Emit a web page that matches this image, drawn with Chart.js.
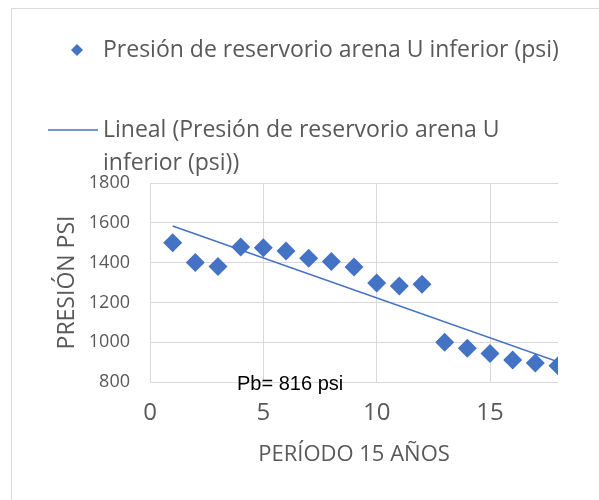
<!DOCTYPE html>
<html>
<head>
<meta charset="utf-8">
<script src="https://cdn.jsdelivr.net/npm/chart.js@4.4.1/dist/chart.umd.min.js"></script>
<style>
html, body { margin: 0; padding: 0; background: #fff; }
#wrap { position: relative; width: 599px; height: 500px; overflow: hidden; }
#frame { position: absolute; left: 11px; top: 8px; width: 700px; height: 600px; border: 1px solid #d9d9d9; }
canvas { position: absolute; left: 0; top: 0; }
</style>
</head>
<body>
<div id="wrap"><div id="frame"></div><canvas id="chart" width="599" height="500"></canvas></div>
<script>
// data
const periods = [1, 2, 3, 4, 5, 6, 7, 8, 9, 10, 11, 12, 13, 14, 15, 16, 17, 18];
const pressures = [1500, 1400, 1380, 1478, 1475, 1458, 1422, 1406, 1378, 1297, 1283, 1291, 1000, 970, 943, 910, 896, 882];
const xTicks = [0, 5, 10, 15];
const seriesName = 'Presión de reservorio arena U inferior (psi)';
const trendName = ['Lineal (Presión de reservorio arena U', 'inferior (psi))'];
const xTitle = 'PERÍODO 15 AÑOS';
const yTitle = 'PRESIÓN PSI';
const note = 'Pb= 816 psi';

const blue = '#4472C4';
const grey = '#595959';
const font = "'Open Sans', sans-serif";

// least squares trend, like the spreadsheet one
function trend(xs, ys) {
    const n = xs.length;
    const mx = xs.reduce((a, b) => a + b, 0) / n;
    const my = ys.reduce((a, b) => a + b, 0) / n;
    let sxy = 0, sxx = 0;
    for (let i = 0; i < n; i++) {
        sxy += (xs[i] - mx) * (ys[i] - my);
        sxx += (xs[i] - mx) * (xs[i] - mx);
    }
    const m = sxy / sxx;
    const x0 = xs[0], x1 = xs[n - 1];
    return [{x: x0, y: my + m * (x0 - mx)}, {x: x1, y: my + m * (x1 - mx)}];
}

const legendAndNote = {
    id: 'legendAndNote',
    afterDraw(chart) {
        const c = chart.ctx;
        c.save();
        // legend
        c.fillStyle = blue;
        c.beginPath();
        c.moveTo(77, 44); c.lineTo(83, 50); c.lineTo(77, 56); c.lineTo(71, 50);
        c.closePath();
        c.fill();
        c.strokeStyle = blue;
        c.lineWidth = 1.5;
        c.beginPath();
        c.moveTo(48, 130); c.lineTo(98, 130);
        c.stroke();
        c.fillStyle = grey;
        c.font = '23px ' + font;
        c.textBaseline = 'middle';
        c.fillText(seriesName, 103, 50);
        c.fillText(trendName[0], 103, 130);
        c.fillText(trendName[1], 103, 163);
        // note near the axis
        c.fillStyle = '#000';
        c.font = "20px 'Liberation Sans', Arial, sans-serif";
        c.fillText(note, 237, 384);
        c.restore();
    }
};

new Chart(document.getElementById('chart'), {
    type: 'scatter',
    data: {
        datasets: [{
            label: seriesName,
            data: periods.map((p, i) => ({x: p, y: pressures[i]})),
            pointStyle: 'rectRot',
            pointRadius: 9.5,
            pointHoverRadius: 9.5,
            backgroundColor: blue,
            borderColor: blue,
            borderWidth: 0
        }, {
            label: trendName.join(' '),
            type: 'line',
            data: trend(periods, pressures),
            borderColor: blue,
            borderWidth: 1.5,
            pointRadius: 0,
            fill: false
        }]
    },
    options: {
        responsive: false,
        animation: false,
        layout: {padding: {left: 0, top: 183, right: 41, bottom: 0}},
        plugins: {legend: {display: false}, tooltip: {enabled: false}},
        scales: {
            x: {
                type: 'linear',
                min: 0,
                max: 18,
                afterBuildTicks: axis => { axis.ticks = xTicks.map(v => ({value: v})); },
                afterFit: axis => { axis.height = 118; },
                grid: {color: '#d9d9d9', drawTicks: false},
                border: {display: false},
                ticks: {color: grey, font: {family: font, size: 24}, padding: 17},
                title: {display: true, text: xTitle, color: grey, font: {family: font, size: 22}, padding: {top: 0, bottom: 32}}
            },
            y: {
                min: 800,
                max: 1800,
                afterFit: axis => { axis.width = 150; },
                grid: {color: '#d9d9d9', drawTicks: false},
                border: {display: false},
                ticks: {stepSize: 200, color: grey, font: {family: font, size: 18}, padding: 20, callback: v => String(v)},
                title: {display: true, text: yTitle, color: grey, font: {family: font, size: 23}, padding: {top: 54, bottom: 0}}
            }
        }
    },
    plugins: [legendAndNote]
});
</script>
</body>
</html>
